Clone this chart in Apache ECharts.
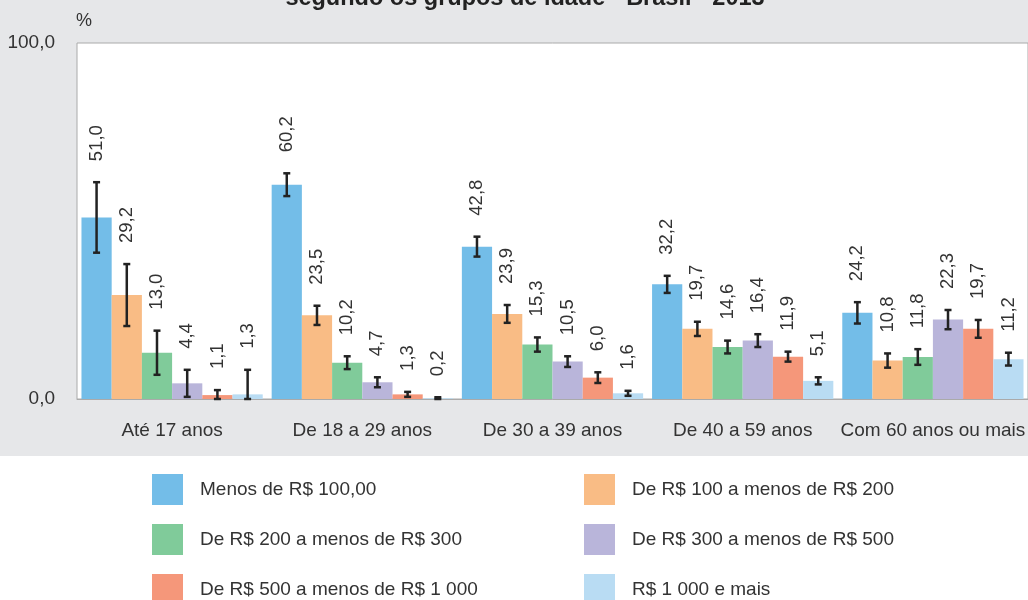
<!DOCTYPE html>
<html><head><meta charset="utf-8">
<script src="https://cdn.jsdelivr.net/npm/echarts@6/dist/echarts.min.js"></script>
<style>html,body{margin:0;padding:0;background:#fff}#c{width:1028px;height:600px}</style>
</head><body><div id="c"></div>
<script>
const categories = ['Até 17 anos', 'De 18 a 29 anos', 'De 30 a 39 anos', 'De 40 a 59 anos', 'Com 60 anos ou mais'];
const seriesNames = ['Menos de R$ 100,00', 'De R$ 100 a menos de R$ 200', 'De R$ 200 a menos de R$ 300', 'De R$ 300 a menos de R$ 500', 'De R$ 500 a menos de R$ 1 000', 'R$ 1 000 e mais'];
const colors = ['#73bde8', '#f9bc85', '#80cb9a', '#b9b5da', '#f5977a', '#b9dcf3'];
const menos100 = [51.0, 60.2, 42.8, 32.2, 24.2];
const de100a200 = [29.2, 23.5, 23.9, 19.7, 10.8];
const de200a300 = [13.0, 10.2, 15.3, 14.6, 11.8];
const de300a500 = [4.4, 4.7, 10.5, 16.4, 22.3];
const de500a1000 = [1.1, 1.3, 6.0, 11.9, 19.7];
const de1000mais = [1.3, 0.2, 1.6, 5.1, 11.2];
const err100 = [9.9, 3.2, 2.8, 2.4, 3.0];
const err100a200 = [8.7, 2.7, 2.5, 2.0, 2.0];
const err200a300 = [6.2, 1.8, 2.0, 1.8, 2.2];
const err300a500 = [3.8, 1.4, 1.5, 1.8, 2.7];
const err500a1000 = [1.4, 0.7, 1.5, 1.4, 2.5];
const err1000mais = [6.9, 0.3, 0.7, 1.0, 1.8];
const yTicks = [0, 100];

const values = [menos100, de100a200, de200a300, de300a500, de500a1000, de1000mais];
const errs = [err100, err100a200, err200a300, err300a500, err500a1000, err1000mais];
const CATGAP = 0.047;
const fontFam = '"Liberation Sans", Arial, sans-serif';

const chart = echarts.init(document.getElementById('c'));
const series = [];
values.forEach((v, i) => {
  series.push({
    name: seriesNames[i], type: 'bar', data: v,
    itemStyle: { color: colors[i] },
    barGap: '0%', barCategoryGap: (CATGAP * 100) + '%',
    emphasis: { disabled: true }
  });
});
values.forEach((v, i) => {
  series.push({
    type: 'custom', z: 5, silent: true,
    encode: { x: 0, y: [1, 2] },
    data: v.map((val, k) => [k, Math.max(0, val - errs[i][k]), val + errs[i][k], val]),
    renderItem: function (params, api) {
      const k = api.value(0);
      const c = api.coord([k, 0]);
      const band = api.size([1, 0])[0];
      const grp = band * (1 - CATGAP);
      const bw = grp / 6;
      const x = c[0] - grp / 2 + bw * (i + 0.5);
      const lo = api.coord([k, api.value(1)])[1];
      const hi = api.coord([k, api.value(2)])[1];
      const cap = 3.5;
      const st = { stroke: '#222', lineWidth: 2.5 };
      const label = api.value(3).toFixed(1).replace('.', ',');
      return {
        type: 'group',
        children: [
          { type: 'line', shape: { x1: x, y1: lo, x2: x, y2: hi }, style: st },
          { type: 'line', shape: { x1: x - cap, y1: lo, x2: x + cap, y2: lo }, style: st },
          { type: 'line', shape: { x1: x - cap, y1: hi, x2: x + cap, y2: hi }, style: st },
          { type: 'text', x: x, y: hi - 21, rotation: Math.PI / 2,
            style: { text: label, x: 0, y: 0, align: 'left', verticalAlign: 'middle',
              fill: '#333', fontSize: 18.5, fontFamily: fontFam } }
        ]
      };
    }
  });
});

chart.setOption({
  animation: false,
  textStyle: { fontFamily: fontFam },
  graphic: [
    { type: 'rect', left: 0, top: 0, z: -10, shape: { width: 1028, height: 456 }, style: { fill: '#e6e7e9' } },
    { type: 'text', x: 525, y: 11, style: { text: 'segundo os grupos de idade - Brasil - 2013', align: 'center', verticalAlign: 'bottom', fontSize: 23.5, fontWeight: 'bold', fill: '#222', fontFamily: fontFam } },
    { type: 'text', left: 76, top: 12, style: { text: '%', fontSize: 18, fill: '#333', fontFamily: fontFam } }
  ],
  grid: { left: 77, right: -4, top: 43, bottom: 201, show: true, backgroundColor: '#fff', borderColor: '#aaa', borderWidth: 1 },
  legend: [
    { data: [seriesNames[0], seriesNames[2], seriesNames[4]], orient: 'vertical', left: 152, top: 474, height: 200, padding: 0, itemWidth: 31, itemHeight: 31, itemGap: 19,
      textStyle: { fontSize: 19, color: '#333', padding: [0, 0, 0, 12], fontFamily: fontFam }, icon: 'rect', selectedMode: false },
    { data: [seriesNames[1], seriesNames[3], seriesNames[5]], orient: 'vertical', left: 584, top: 474, height: 200, padding: 0, itemWidth: 31, itemHeight: 31, itemGap: 19,
      textStyle: { fontSize: 19, color: '#333', padding: [0, 0, 0, 12], fontFamily: fontFam }, icon: 'rect', selectedMode: false }
  ],
  xAxis: {
    type: 'category', data: categories,
    axisLine: { show: true, lineStyle: { color: '#aaa', width: 1 } },
    axisTick: { show: false },
    axisLabel: { color: '#333', fontSize: 19, margin: 22, interval: 0 }
  },
  yAxis: {
    type: 'value', min: yTicks[0], max: yTicks[1], interval: yTicks[1] - yTicks[0],
    splitLine: { show: false }, axisLine: { show: false }, axisTick: { show: false },
    axisLabel: { color: '#333', fontSize: 19, margin: 22, formatter: v => v.toFixed(1).replace('.', ',') }
  },
  series: series
});
</script></body></html>
